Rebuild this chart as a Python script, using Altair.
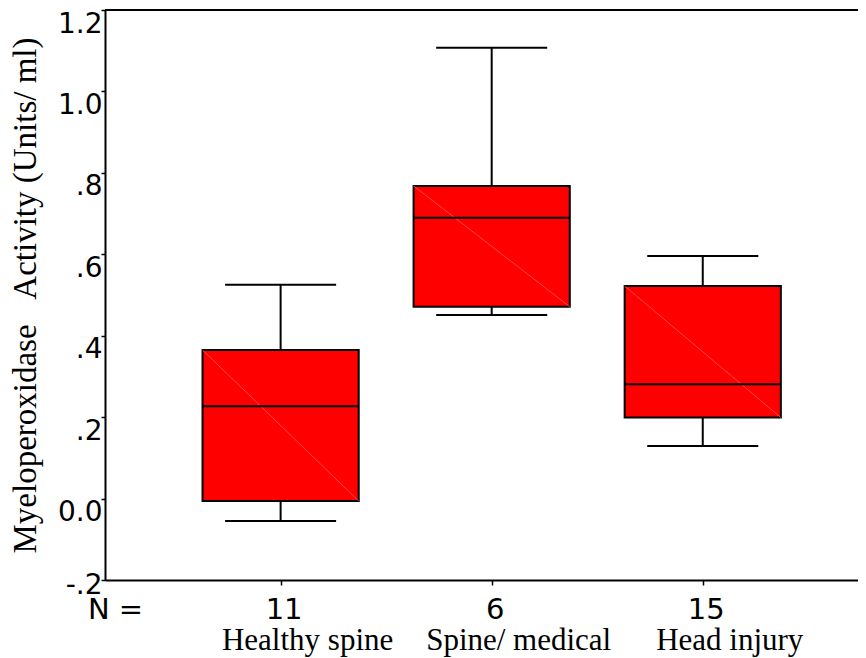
import altair as alt
import pandas as pd

# ---- data ----
categories = ["Healthy spine", "Spine/ medical", "Head injury"]
positions = [1, 2, 3]
n_counts = ["11", "6", "15"]
whisker_low = [-0.055, 0.451, 0.129]
q1 = [-0.006, 0.471, 0.199]
median = [0.227, 0.690, 0.281]
q3 = [0.365, 0.768, 0.522]
whisker_high = [0.525, 1.107, 0.596]

y_ticks = [-0.2, 0.0, 0.2, 0.4, 0.6, 0.8, 1.0, 1.2]
y_tick_labels = ["-.2", "0.0", ".2", ".4", ".6", ".8", "1.0", "1.2"]
y_title = "Myeloperoxidase\u00a0\u00a0\u00a0Activity (Units/ ml)"

# ---- style constants ----
BOX_HALF = 0.37
CAP_HALF = 0.263
SANS = "DejaVu Sans"
SERIF = "Liberation Serif"
PLOT_W = 753
PLOT_H = 570

df = pd.DataFrame({
    "cat": categories, "pos": positions, "n": n_counts,
    "lo": whisker_low, "q1": q1, "med": median, "q3": q3, "hi": whisker_high,
})

y_label_array = "[" + ",".join(f"'{s}'" for s in y_tick_labels) + "]"
y_expr = f"{y_label_array}[round((datum.value + 0.2) * 5)]"
x_label_array = "[''," + ",".join(f"'{s}'" for s in n_counts) + "]"
x_expr = f"{x_label_array}[round(datum.value)]"

xs = alt.Scale(domain=[0.168, 3.7355], nice=False, zero=False)
ys = alt.Scale(domain=[-0.2, 1.2], nice=False, zero=False)

y_axis = alt.Axis(
    values=y_ticks, labelExpr=y_expr,
    title=y_title,
    titleFont=SERIF, titleFontSize=33, titleFontWeight="normal", titleColor="black",
    titleAngle=270, titleAlign="center", titleBaseline="alphabetic",
    titleX=-70, titleY=285,
    labelFont=SANS, labelFontSize=28, labelColor="black",
    labelAlign="right", labelBaseline="top",
    labelOffset={"condition": {"test": "datum.value < -0.1", "value": -9}, "value": 0},
    labelPadding=-1, tickSize=4, tickWidth=1.5, tickColor="black",
    domainColor="black", domainWidth=2, grid=False,
)

x_axis_bottom = alt.Axis(
    values=positions, labelExpr=x_expr, title="N =",
    titleFont=SANS, titleFontSize=29, titleFontWeight="normal", titleColor="black",
    titleX=10, titleY=15, titleBaseline="top", titleAlign="center",
    labelFont=SANS, labelFontSize=29, labelColor="black", labelBaseline="top",
    labelPadding=10, labelOffset=3, labelFlush=False, labelOverlap=False,
    tickSize=5, tickWidth=1.5, tickColor="black",
    domainColor="black", domainWidth=2, grid=False,
)

base = alt.Chart(df).transform_calculate(
    bl=f"datum.pos - {BOX_HALF}", br=f"datum.pos + {BOX_HALF}",
    cl=f"datum.pos - {CAP_HALF}", cr=f"datum.pos + {CAP_HALF}",
)

# top frame line of the plot area
top_border = base.mark_rule(color="black", strokeWidth=2).encode(
    x=alt.value(0), x2=alt.value(PLOT_W), y=alt.value(0),
)
whisk = base.mark_rule(color="black", strokeWidth=2).encode(
    x=alt.X("pos:Q", scale=xs, axis=x_axis_bottom),
    y=alt.Y("lo:Q", scale=ys, axis=y_axis),
    y2="hi:Q",
)
cap_lo = base.mark_rule(color="black", strokeWidth=2).encode(
    x=alt.X("cl:Q", scale=xs), x2="cr:Q",
    y=alt.Y("lo:Q", scale=ys),
)
cap_hi = base.mark_rule(color="black", strokeWidth=2).encode(
    x=alt.X("cl:Q", scale=xs), x2="cr:Q",
    y=alt.Y("hi:Q", scale=ys),
)
box = base.mark_rect(fill="#ff0000", stroke="black", strokeWidth=2).encode(
    x=alt.X("bl:Q", scale=xs), x2="br:Q",
    y=alt.Y("q1:Q", scale=ys), y2="q3:Q",
)
diag = base.mark_rule(color="#ff5a5a", strokeWidth=0.8).encode(
    x=alt.X("bl:Q", scale=xs), x2="br:Q",
    y=alt.Y("q3:Q", scale=ys), y2="q1:Q",
)
med = base.mark_rule(color="black", strokeWidth=2).encode(
    x=alt.X("bl:Q", scale=xs), x2="br:Q",
    y=alt.Y("med:Q", scale=ys),
)
names = base.mark_text(
    font=SERIF, fontSize=31, color="black", align="center",
    baseline="alphabetic", dx=27,
).encode(
    x=alt.X("pos:Q", scale=xs),
    y=alt.value(640),
    text="cat:N",
)

chart = alt.layer(whisk, cap_lo, cap_hi, box, diag, med, names, top_border).properties(
    width=PLOT_W, height=PLOT_H,
    autosize=alt.AutoSizeParams(type="none"),
    padding={"left": 97, "top": 2, "right": 0, "bottom": 78},
    background="white",
).configure_view(strokeWidth=0)

chart.save("out.html", embed_options={"renderer": "svg", "actions": False})
